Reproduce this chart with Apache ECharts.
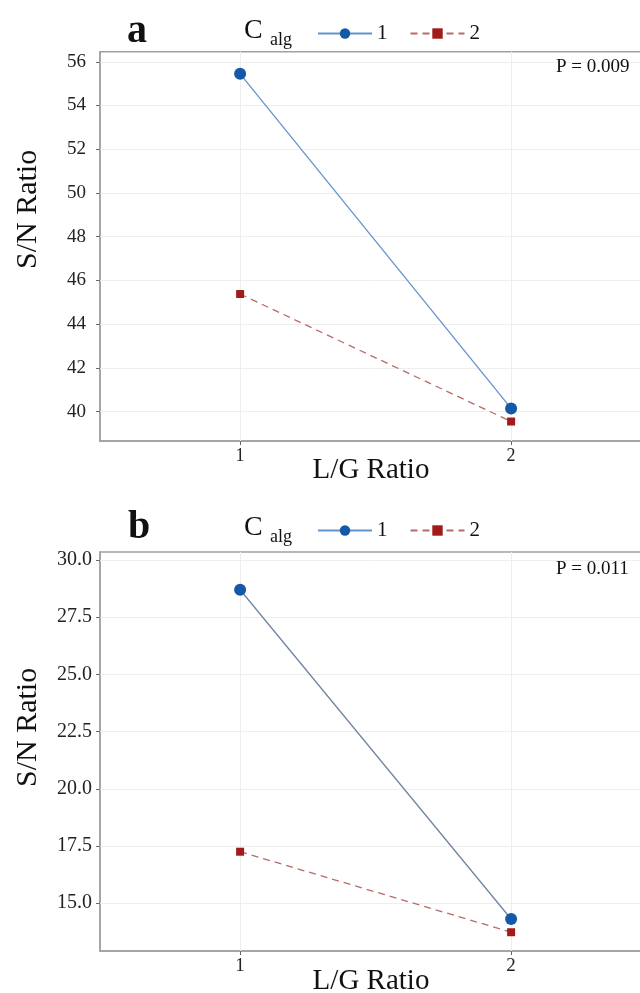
<!DOCTYPE html>
<html><head><meta charset="utf-8">
<script src="https://cdn.jsdelivr.net/npm/echarts@6/dist/echarts.min.js"></script>
<style>html,body{margin:0;padding:0;background:#fff}#c{width:640px;height:993px}</style>
</head><body><div id="c"></div>
<script>
const categories = [1, 2];
const aSeries1 = [55.45, 40.15];
const aSeries2 = [45.38, 39.55];
const bSeries1 = [28.7, 14.31];
const bSeries2 = [17.25, 13.73];
const aTicks = [40, 42, 44, 46, 48, 50, 52, 54, 56];
const bTicks = [15, 17.5, 20, 22.5, 25, 27.5, 30];
const pA = 'P = 0.009';
const pB = 'P = 0.011';

const F = 'Liberation Serif';
const blueLine = '#6393cc', blueDot = '#1458a8';
const redLine = '#b86a6a', redDot = '#a11b1b';
const axisGray = '#a0a0a0';

function pts(arr){ return categories.map((c,i)=>[c, arr[i]]); }
function gridSeries(gi, ticks){
  return {name:'grid'+gi, type:'line', xAxisIndex:gi, yAxisIndex:gi, data:[], z:1, silent:true,
    markLine:{silent:true, z:1, symbol:'none', label:{show:false}, animation:false,
      lineStyle:{color:'#eeeeee', type:'solid', width:1},
      data: ticks.map(v=>({yAxis:v})).concat(categories.map(c=>({xAxis:c})))}};
}
function xAx(gi, gap, fs){
  return {type:'value', gridIndex:gi, min:0.483, max:2.483,
    axisLine:{show:true, lineStyle:{color:axisGray, width:1.5}},
    axisTick:{show:true, customValues:categories, length:4, lineStyle:{color:'#666'}},
    axisLabel:{customValues:categories, color:'#222', fontFamily:F, fontSize:fs, margin:6},
    splitLine:{show:false},
    name:'L/G Ratio', nameLocation:'middle', nameGap:gap, nameMoveOverlap:false,
    nameTextStyle:{fontFamily:F, fontSize:29, color:'#111'}};
}
function yAx(gi, min, max, ticks, fmt, margin, fs){
  return {type:'value', gridIndex:gi, min:min, max:max,
    axisLine:{show:true, lineStyle:{color:axisGray, width:1.5}},
    axisTick:{show:true, customValues:ticks, length:4, lineStyle:{color:'#666'}},
    axisLabel:{customValues:ticks, color:'#222', fontFamily:F, fontSize:fs, margin:margin, formatter:fmt},
    splitLine:{show:false}};
}
function line(name, gi, arr, color, dot, sym, size, dashed){
  return {name:name, type:'line', xAxisIndex:gi, yAxisIndex:gi, data:pts(arr),
    symbol:sym, symbolSize:size, lineStyle:{color:color, width:1.3, type:dashed?[7,5]:'solid'},
    itemStyle:{color:dot}, z:3};
}
function legendAt(top){
  return {top:top, left:312, itemWidth:54, itemHeight:13, itemGap:22,
    textStyle:{fontFamily:F, fontSize:21, color:'#111'}, data:['1','2'],
    selectedMode:false};
}
function txt(x,y,t,size,weight){
  return {type:'text', left:x, top:y, z:100,
    style:{text:t, font:(weight||'normal')+' '+size+'px "'+F+'"', fill:'#111'}};
}

const chart = echarts.init(document.getElementById('c'));
chart.setOption({
  animation:false,
  grid:[
    {left:100, top:51.7, right:-2, height:389.3, show:true, borderColor:axisGray, borderWidth:1.5, outerBoundsMode:'none', containLabel:false},
    {left:100, top:552, right:-2, height:399, show:true, borderColor:axisGray, borderWidth:1.5, outerBoundsMode:'none', containLabel:false}
  ],
  xAxis:[xAx(0, 15, 18), xAx(1, 16, 19)],
  yAxis:[yAx(0, 38.66, 56.46, aTicks, v=>String(v), 14, 19), yAx(1, 12.91, 30.35, bTicks, v=>Number(v).toFixed(1), 8, 20)],
  legend:[legendAt(18), legendAt(515)],
  series:[
    gridSeries(0, aTicks),
    gridSeries(1, bTicks),
    line('1',0,aSeries1,blueLine,blueDot,'circle',12,false),
    line('2',0,aSeries2,redLine,redDot,'rect',8,true),
    line('1',1,bSeries1,'#71849e',blueDot,'circle',12,false),
    line('2',1,bSeries2,redLine,redDot,'rect',8,true)
  ],
  graphic:[
    txt(127,12,'a',40,'bold'),
    txt(128,508,'b',40,'bold'),
    txt(244,17,'C',28),
    txt(270,31,'alg',18),
    txt(244,514,'C',28),
    txt(270,528,'alg',18),
    txt(556,58,pA,19),
    txt(556,560,pB,19),
    {type:'text', x:13, y:269, z:100, rotation:Math.PI/2, style:{text:'S/N Ratio', font:'30px "'+F+'"', fill:'#111'}},
    {type:'text', x:13, y:787, z:100, rotation:Math.PI/2, style:{text:'S/N Ratio', font:'30px "'+F+'"', fill:'#111'}}
  ]
});
</script></body></html>
